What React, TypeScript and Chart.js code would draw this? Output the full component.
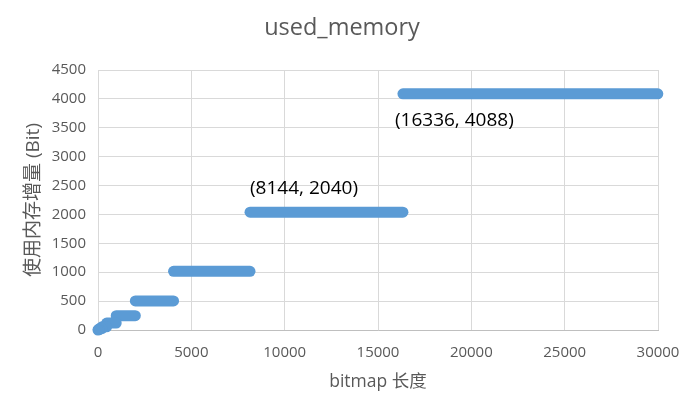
import React, { useEffect, useRef } from "react";
import { Chart, registerables } from "chart.js";

Chart.register(...registerables);

// Plateaus of the used-memory step function
const plateauStart = [0, 16, 80, 208, 464, 976, 2000, 4048, 8144, 16336];
const plateauEnd = [15, 79, 207, 463, 975, 1999, 4047, 8143, 16335, 29990];
const plateauValue = [0, 8, 24, 56, 120, 248, 504, 1016, 2040, 4088];

// Data labels
const labelX = [8144, 16336];
const labelY = [2040, 4088];

const xTicks = [0, 5000, 10000, 15000, 20000, 25000, 30000];
const yTicks = [0, 500, 1000, 1500, 2000, 2500, 3000, 3500, 4000, 4500];

const TITLE = "used_memory";
const FONT = "'Open Sans', 'Noto Sans CJK SC', sans-serif";
const GREY = "#595959";
const BLUE = "#5B9BD5";

const labelPlugin = {
  id: "pointLabels",
  afterDatasetsDraw(chart: any) {
    const { ctx, scales } = chart;
    const offsets = [
      { dx: 0, dy: -24 },
      { dx: -8, dy: 27 },
    ];
    ctx.save();
    ctx.font = `19px ${FONT}`;
    ctx.fillStyle = "#000000";
    ctx.textAlign = "left";
    ctx.textBaseline = "middle";
    labelX.forEach((x, i) => {
      const px = scales.x.getPixelForValue(x) + offsets[i].dx;
      const py = scales.y.getPixelForValue(labelY[i]) + offsets[i].dy;
      ctx.fillText(`(${x}, ${labelY[i]})`, px, py);
    });
    ctx.restore();
  },
};

const titlePlugin = {
  id: "centeredTitle",
  afterDraw(chart: any) {
    const { ctx } = chart;
    ctx.save();
    ctx.font = `23.5px ${FONT}`;
    ctx.fillStyle = GREY;
    ctx.textAlign = "center";
    ctx.textBaseline = "middle";
    ctx.fillText(TITLE, chart.width / 2, 28);
    ctx.restore();
  },
};

export default function App() {
  const ref = useRef<HTMLCanvasElement | null>(null);
  useEffect(() => {
    if (!ref.current) return;
    const datasets = plateauStart.map((s, i) => ({
      data: [
        { x: s, y: plateauValue[i] },
        { x: plateauEnd[i], y: plateauValue[i] },
      ],
      showLine: true,
      borderColor: BLUE,
      backgroundColor: BLUE,
      borderWidth: 11,
      borderCapStyle: "round" as const,
      pointRadius: 0,
      pointHoverRadius: 0,
      clip: false as any,
    }));
    const chart = new Chart(ref.current, {
      type: "scatter",
      data: { datasets },
      options: {
        animation: false,
        responsive: true,
        maintainAspectRatio: false,
        layout: { padding: { left: 0, right: 26, top: 70, bottom: 0 } },
        plugins: {
          legend: { display: false },
          tooltip: { enabled: false },
          title: { display: false },
        },
        scales: {
          x: {
            type: "linear",
            min: 0,
            max: 30000,
            afterBuildTicks: (scale: any) => {
              scale.ticks = xTicks.map((v) => ({ value: v }));
            },
            afterFit: (scale: any) => {
              scale.height = 79;
              scale.paddingLeft = 0;
              scale.paddingRight = 0;
            },
            ticks: {
              color: GREY,
              font: { family: FONT, size: 15 },
              padding: 14,
              maxRotation: 0,
              autoSkip: false,
              callback: (v: any) => String(v),
            },
            grid: { color: "#d9d9d9", drawTicks: false },
            border: { color: "#bfbfbf" },
            title: {
              display: true,
              text: "bitmap 长度",
              color: GREY,
              font: { family: FONT, size: 17.5 },
              padding: { top: 0, bottom: 16 },
            },
          },
          y: {
            type: "linear",
            min: 0,
            max: 4500,
            afterBuildTicks: (scale: any) => {
              scale.ticks = yTicks.map((v) => ({ value: v }));
            },
            afterFit: (scale: any) => {
              scale.width = 98;
              scale.paddingTop = 0;
              scale.paddingBottom = 0;
            },
            ticks: {
              color: GREY,
              font: { family: FONT, size: 15 },
              padding: 12,
              autoSkip: false,
              callback: (v: any) => String(v),
            },
            grid: { color: "#d9d9d9", drawTicks: false },
            border: { color: "#d9d9d9" },
            title: {
              display: true,
              text: "使用内存增量 (Bit)",
              color: GREY,
              font: { family: FONT, size: 19 },
              padding: { top: 22, bottom: 0 },
            },
          },
        },
      },
      plugins: [labelPlugin, titlePlugin],
    });
    return () => chart.destroy();
  }, []);
  return (
    <div style={{ position: "absolute", left: 0, top: 0, width: 684, height: 409, background: "#ffffff" }}>
      <canvas ref={ref} />
    </div>
  );
}
